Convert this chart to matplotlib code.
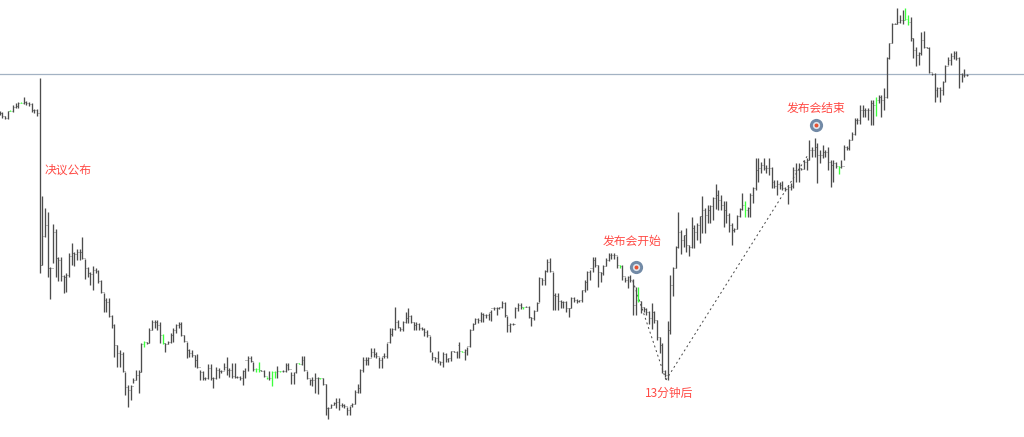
import matplotlib
matplotlib.use("Agg")
import matplotlib.pyplot as plt

plt.rcParams['font.family'] = ['Noto Sans CJK SC', 'DejaVu Sans']

# Levels are read from the picture (no price axis is shown; larger level = lower on the chart).
highs = [111,112,116,111,110,105,103,102,102,97,
         101,102,103,109,109,78,196,208,212,267,
         224,229,257,257,275,273,253,243,252,249,
         249,237,259,267,272,266,268,270,280,293,
         298,298,315,324,345,350,352,372,385,385,
         378,370,370,343,341,342,328,320,320,320,
         322,334,343,341,333,328,324,322,322,335,
         342,349,350,355,354,370,371,377,364,364,
         377,367,368,370,363,357,368,363,363,376,
         376,370,368,356,356,362,368,362,370,370,
         377,371,371,371,366,371,370,363,363,372,
         372,363,363,356,356,371,379,377,373,377,
         378,378,384,407,404,402,398,398,403,404,
         407,406,403,390,384,369,357,357,357,348,
         348,352,357,357,353,343,328,328,307,320,
         327,321,312,308,315,322,322,323,327,328,
         330,336,352,357,351,361,352,353,358,351,
         351,351,342,351,349,347,329,323,318,318,
         312,313,314,313,310,307,307,307,301,302,
         316,323,323,307,303,303,307,306,306,317,
         310,302,277,278,270,259,258,272,293,293,
         300,301,301,308,297,297,299,300,290,280,
         271,270,257,257,265,272,265,258,253,253,
         253,256,265,265,277,276,275,279,287,287,
         301,307,308,311,303,311,320,337,343,370,
         321,275,267,246,212,230,235,228,245,217,
         225,223,216,196,208,205,205,197,184,190,
         195,201,201,213,223,228,215,208,193,201,
         207,193,187,158,158,162,158,165,158,167,
         180,180,182,181,187,185,183,167,163,163,
         168,160,158,140,147,138,143,150,145,150,
         147,160,160,162,166,160,145,146,139,132,
         118,118,105,105,108,108,100,100,97,95,
         95,88,57,43,23,23,8,15,10,8,
         15,17,38,47,52,32,31,47,47,73,
         73,87,87,81,65,57,53,51,51,57,
         73,69,74]

lows =  [115,118,119,119,111,112,108,108,103,104,
         105,106,112,113,116,273,265,237,277,299,
         263,277,281,281,293,292,277,265,266,260,
         260,259,279,277,285,290,273,283,293,312,
         312,317,328,357,367,367,372,395,407,400,
         383,380,393,372,347,344,343,330,328,330,
         343,344,352,344,343,342,333,328,336,342,
         358,357,357,367,368,380,380,380,379,380,
         388,379,378,373,370,375,377,378,378,378,
         380,385,378,371,362,371,372,372,371,377,
         379,380,386,378,378,372,372,372,370,384,
         384,373,364,365,371,379,385,386,393,394,
         379,385,415,419,408,405,408,410,407,408,
         415,415,407,404,393,393,372,365,365,357,
         357,358,368,368,358,358,343,336,330,328,
         331,331,323,323,323,330,330,330,330,336,
         337,352,360,362,363,365,367,362,362,361,
         352,358,358,352,360,355,347,330,324,323,
         322,322,318,320,321,310,315,309,308,317,
         332,332,325,318,311,309,309,307,318,326,
         320,311,302,285,285,272,272,310,310,310,
         308,308,312,317,308,302,303,302,302,292,
         290,280,272,267,287,282,275,266,261,259,
         259,268,268,280,282,288,282,315,315,302,
         313,312,315,324,329,323,340,353,373,377,
         380,334,296,268,248,254,247,252,256,248,
         248,240,243,233,233,223,223,220,209,210,
         210,227,223,232,245,232,229,217,210,217,
         217,217,203,190,182,173,170,173,175,188,
         188,195,189,190,191,204,190,188,182,182,
         170,169,170,160,157,157,183,163,158,157,
         170,187,182,168,174,168,160,150,150,140,
         135,124,124,117,117,120,125,125,116,103,
         117,110,98,59,43,24,24,23,24,20,
         25,41,58,66,65,55,48,48,73,75,
         102,97,102,95,82,65,65,59,60,88,
         82,77,76]

closes = [113,116,118,111,111,107,106,103,103,102,
          103,104,110,110,113,265,236,225,268,268,
          232,258,260,276,277,275,256,253,254,252,
          252,258,268,273,274,270,271,281,292,300,
          302,316,325,345,353,354,371,387,390,386,
          380,375,372,344,342,343,330,322,322,325,
          335,343,344,342,335,330,325,324,335,341,
          350,353,355,360,367,372,378,378,368,378,
          378,370,371,371,367,370,370,376,377,377,
          378,371,360,358,361,369,369,370,371,376,
          378,378,372,372,371,371,371,365,369,375,
          372,363,364,360,370,378,380,380,378,378,
          378,384,408,408,405,403,402,405,405,406,
          410,405,404,392,388,370,360,360,358,352,
          354,356,360,356,356,342,334,329,322,327,
          329,322,318,316,322,325,324,328,329,332,
          335,351,357,358,361,362,354,359,358,351,
          352,345,351,352,350,346,330,324,319,320,
          314,315,315,312,308,308,308,307,303,315,
          325,324,324,308,305,307,307,307,317,318,
          311,303,278,280,271,262,271,295,296,301,
          302,302,308,308,298,300,301,300,290,282,
          272,268,260,265,272,273,266,260,255,255,
          255,265,266,276,280,277,280,305,300,301,
          307,309,312,318,312,320,337,345,371,375,
          330,285,268,247,232,240,235,245,247,228,
          232,225,216,210,215,210,206,198,195,200,
          205,210,215,225,230,229,216,209,205,210,
          208,195,188,170,168,165,168,168,168,182,
          186,184,185,188,189,187,186,170,170,168,
          169,162,160,150,150,147,155,155,152,152,
          162,165,163,166,167,166,147,148,140,134,
          120,120,110,110,110,110,103,105,100,97,
          100,97,58,43,24,24,22,20,20,19,
          22,38,50,55,53,40,47,48,72,74,
          90,88,90,82,66,60,56,53,58,74,
          75,75,75]

green_bars = [4,8,54,61,96,97,100,102,103,105,112,120,173,196,232,239,279,314,328,339,340]

labels = [("决议公布", 17.0, 170, "left"),
          ("发布会开始", 236.7, 241, "center"),
          ("发布会结束", 305.5, 108, "center"),
          ("13分钟后", 250.5, 393, "center")]
markers = [(238.2, 267), (305.5, 125)]
dotted_segments = [([237.0, 249.4], [281, 380]), ([249.4, 302.5], [380, 155])]
reference_level = 74

BAR_STEP = 2.672
fig = plt.figure(figsize=(10.24, 4.37), dpi=100)
ax = fig.add_axes([0, 0, 1, 1])
ax.set_xlim(0.4 / BAR_STEP, 1024.4 / BAR_STEP)
ax.set_ylim(437, 0)
ax.axis("off")

ax.axhline(reference_level, color="#a3b2c3", lw=0.9, zorder=1)

for xs, ys in dotted_segments:
    ax.plot(xs, ys, color="#444444", lw=0.7, ls=(0, (2, 3)), zorder=2)

n = len(highs)
colors = ["#3dff3d" if i in green_bars else "#4d4d4d" for i in range(n)]
idx = list(range(n))
ax.vlines(idx, highs, lows, colors=colors, lw=0.95, zorder=3)
opens = [closes[i - 1] if i else closes[0] for i in idx]
ax.hlines(closes, idx, [i + 0.36 for i in idx], colors=colors, lw=0.5, zorder=3)
ax.hlines(opens, [i - 0.36 for i in idx], idx, colors=colors, lw=0.5, zorder=3)

for x, y in markers:
    ax.plot([x], [y], "o", ms=9.5, mfc="#728aa6", mec="none", zorder=4)
    ax.plot([x], [y], "o", ms=5.2, mfc="#dfe5ec", mec="none", zorder=5)
    ax.plot([x], [y], "o", ms=2.8, mfc="#e8502f", mec="none", zorder=6)

for text, x, y, ha in labels:
    ax.text(x, y, text, color="#ff4a45", fontsize=8.5, ha=ha, va="center", zorder=7)

fig.savefig("out.png", dpi=100, facecolor="white")
assert len(highs) == len(lows) == len(closes)
